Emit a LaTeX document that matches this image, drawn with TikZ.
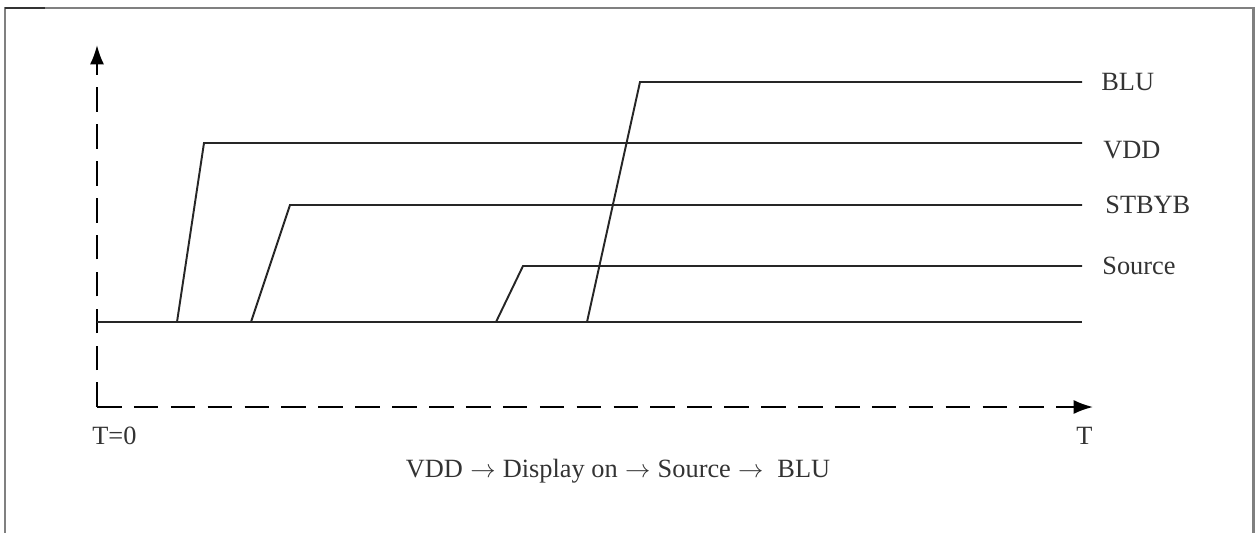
\documentclass[tikz,border=0pt]{standalone}
\usepackage{fontspec}
\setmainfont{Liberation Serif}
\usetikzlibrary{arrows.meta}

\tikzset{
  sig/.style={line width=1.1pt,color=black!85},
  axis/.style={line width=1.2pt,dash pattern={on 14pt off 7pt},-{Latex[length=11pt,width=8pt]}},
  lbl/.style={font=\fontsize{15}{17}\selectfont,anchor=west,inner sep=0pt,text=black!80},
}

\begin{document}
\begin{tikzpicture}[x=0.02cm,y=-0.02cm]
\useasboundingbox (0,0) rectangle (1257,533);
% frame
\draw[line width=1.7pt,color=black!50] (5,533) -- (5,8) -- (1253,8) -- (1253,533);
\draw[line width=1.7pt,color=black!80] (5,8) -- (45,8);
% axes
\coordinate (O) at (97,407);
\coordinate (Ytop) at (97,45);
\coordinate (Xend) at (1093,407);
\draw[axis] (O) -- (Ytop);
\draw[axis] (O) -- (Xend);
\node[lbl] (t0) at (92,436) {T=0};
\node[lbl] (t) at (1076,436) {T};
% base line
\coordinate (base0) at (97,322);
\coordinate (base1) at (1082,322);
\draw[sig] (base0) -- (base1);
% VDD
\coordinate (vdd0) at (177,322);
\coordinate (vdd1) at (204,143);
\coordinate (vdd2) at (1082,143);
\draw[sig] (vdd0) -- (vdd1) -- (vdd2);
\node[lbl] (vddlbl) at (1103,150) {VDD};
% STBYB
\coordinate (stb0) at (251,322);
\coordinate (stb1) at (290,205);
\coordinate (stb2) at (1082,205);
\draw[sig] (stb0) -- (stb1) -- (stb2);
\node[lbl] (stblbl) at (1105,205) {STBYB};
% Source
\coordinate (src0) at (496,322);
\coordinate (src1) at (523,266);
\coordinate (src2) at (1082,266);
\draw[sig] (src0) -- (src1) -- (src2);
\node[lbl] (srclbl) at (1102,266) {Source};
% BLU
\coordinate (blu0) at (587,322);
\coordinate (blu1) at (640,82);
\coordinate (blu2) at (1082,82);
\draw[sig] (blu0) -- (blu1) -- (blu2);
\node[lbl] (blulbl) at (1101,82) {BLU};
% sequence
\node[lbl,anchor=center] (seq) at (618,471)
  {VDD\;$\rightarrow$\;Display on\;$\rightarrow$\;Source\;$\rightarrow$\ \;BLU};
\end{tikzpicture}
\end{document}
